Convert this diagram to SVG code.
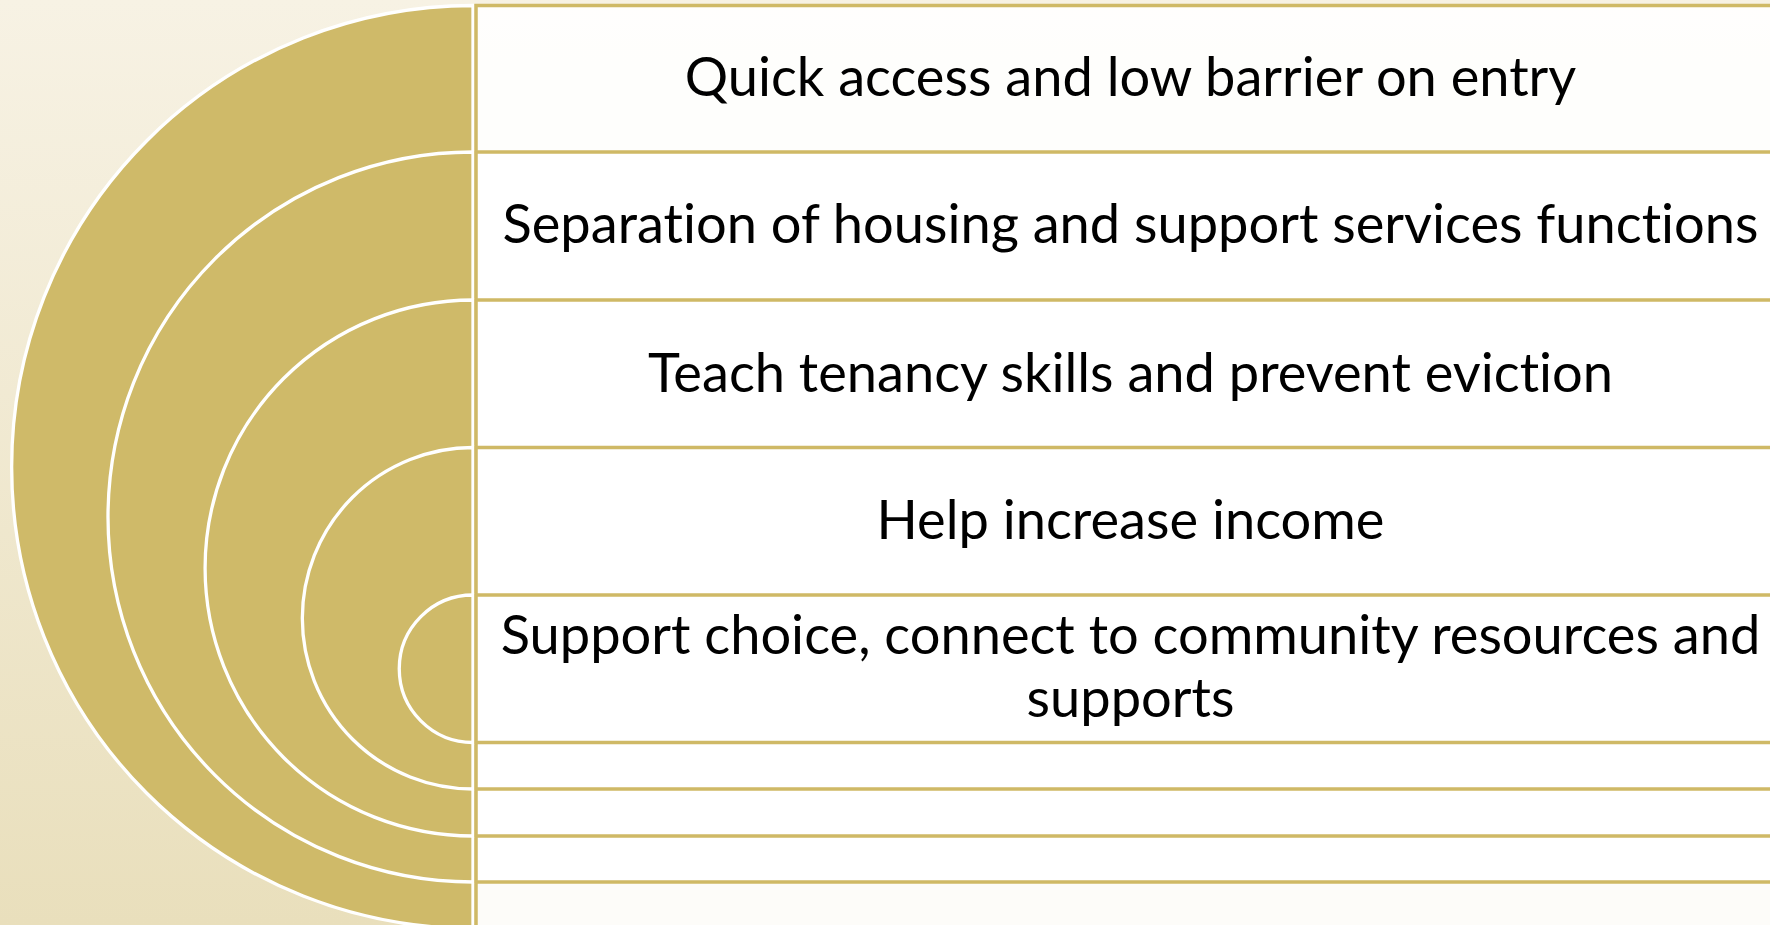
<svg xmlns="http://www.w3.org/2000/svg" width="1770" height="925" viewBox="0 0 1770 925">
<defs>
<linearGradient id="bg" x1="0" y1="0" x2="0" y2="1">
<stop offset="0" stop-color="#F7F2E4"/>
<stop offset="1" stop-color="#E9DFBC"/>
</linearGradient>
<style>
.arc{fill:#CFBA69;stroke:#FFFFFF;stroke-width:3.3}
.box{fill:#FFFFFF;fill-opacity:0.9;stroke:#CFB966;stroke-width:3.5}
.lbl{font-family:Lato,"Liberation Sans",sans-serif;font-size:54.2px;fill:#000000;text-anchor:middle;font-variant-ligatures:none}
</style>
</defs>
<rect x="0" y="0" width="1770" height="925" fill="url(#bg)"/>
<g id="node1">
<path class="arc" d="M473,5.5 A461.5,461.5 0 0 0 473,928.5 Z"/>
<rect class="box" x="476" y="5.5" width="1320" height="923"/>
<text class="lbl" x="1130.5" y="96">Quick access and low barrier on entry</text>
</g>
<g id="node2">
<path class="arc" d="M473,152 A365,365 0 0 0 473,882 Z"/>
<rect class="box" x="476" y="152" width="1320" height="730"/>
<text class="lbl" x="1130.5" y="243">Separation of housing and support services functions</text>
</g>
<g id="node3">
<path class="arc" d="M473,300 A268,268 0 0 0 473,836 Z"/>
<rect class="box" x="476" y="300" width="1320" height="536"/>
<text class="lbl" x="1130.5" y="391.5">Teach tenancy skills and prevent eviction</text>
</g>
<g id="node4">
<path class="arc" d="M473,447.5 A170.75,170.75 0 0 0 473,789 Z"/>
<rect class="box" x="476" y="447.5" width="1320" height="341.5"/>
<text class="lbl" x="1130.5" y="538.5">Help increase income</text>
</g>
<g id="node5">
<path class="arc" d="M473,595 A73.75,73.75 0 0 0 473,742.5 Z"/>
<rect class="box" x="476" y="595" width="1320" height="147.5"/>
<text class="lbl" x="1130.5" y="654">Support choice, connect to community resources and</text>
<text class="lbl" x="1130.5" y="717">supports</text>
</g>
<g id="connectors"/>
</svg>
